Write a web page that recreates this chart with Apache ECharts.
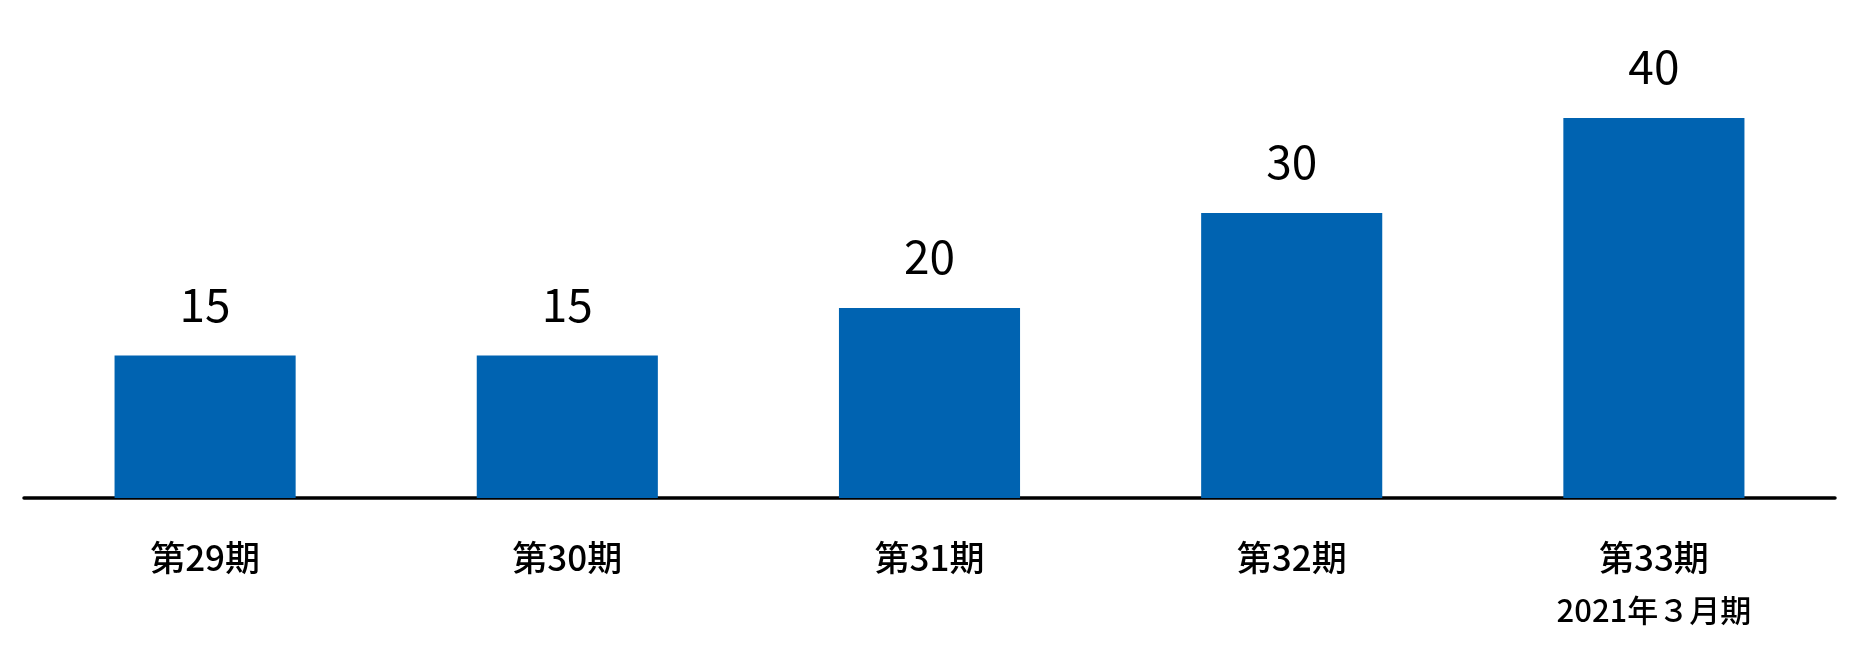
<!DOCTYPE html>
<html>
<head>
<meta charset="utf-8">
<script src="https://cdn.jsdelivr.net/npm/echarts@6/dist/echarts.min.js"></script>
<style>
html,body{margin:0;padding:0;background:#fff;}
#chart{width:1858px;height:646px;}
</style>
</head>
<body>
<div id="chart"></div>
<script>
const categories = ['第29期', '第30期', '第31期', '第32期', '第33期'];
const subLabels = ['', '', '', '', '2021年３月期'];
const values = [15, 15, 20, 30, 40];

const chart = echarts.init(document.getElementById('chart'));
const FONT = '"Noto Sans CJK JP", "Noto Sans", sans-serif';
chart.setOption({
  animation: false,
  backgroundColor: '#ffffff',
  grid: { left: 24, right: 23, top: 118, bottom: 148, containLabel: false },
  xAxis: {
    type: 'category',
    data: categories,
    axisLine: { show: true, lineStyle: { color: '#000', width: 3.5 } },
    axisTick: { show: false },
    axisLabel: {
      margin: 40,
      verticalAlign: 'top',
      fontFamily: FONT,
      formatter: function (v, i) {
        return subLabels[i] ? '{a|' + v + '}\n{b|' + subLabels[i] + '}' : '{a|' + v + '}';
      },
      rich: {
        a: { fontSize: 35, fontWeight: 500, lineHeight: 40, color: '#000', fontFamily: FONT },
        b: { fontSize: 31, fontWeight: 500, lineHeight: 64, color: '#000', fontFamily: FONT }
      }
    }
  },
  yAxis: {
    type: 'value',
    min: 0,
    max: 40,
    show: false,
    splitLine: { show: false }
  },
  series: [{
    type: 'bar',
    data: values,
    barWidth: '50%',
    itemStyle: { color: '#0063B1' },
    label: {
      show: true,
      position: 'top',
      distance: 28,
      fontSize: 46,
      color: '#000',
      fontFamily: FONT
    }
  }]
});
</script>
</body>
</html>
